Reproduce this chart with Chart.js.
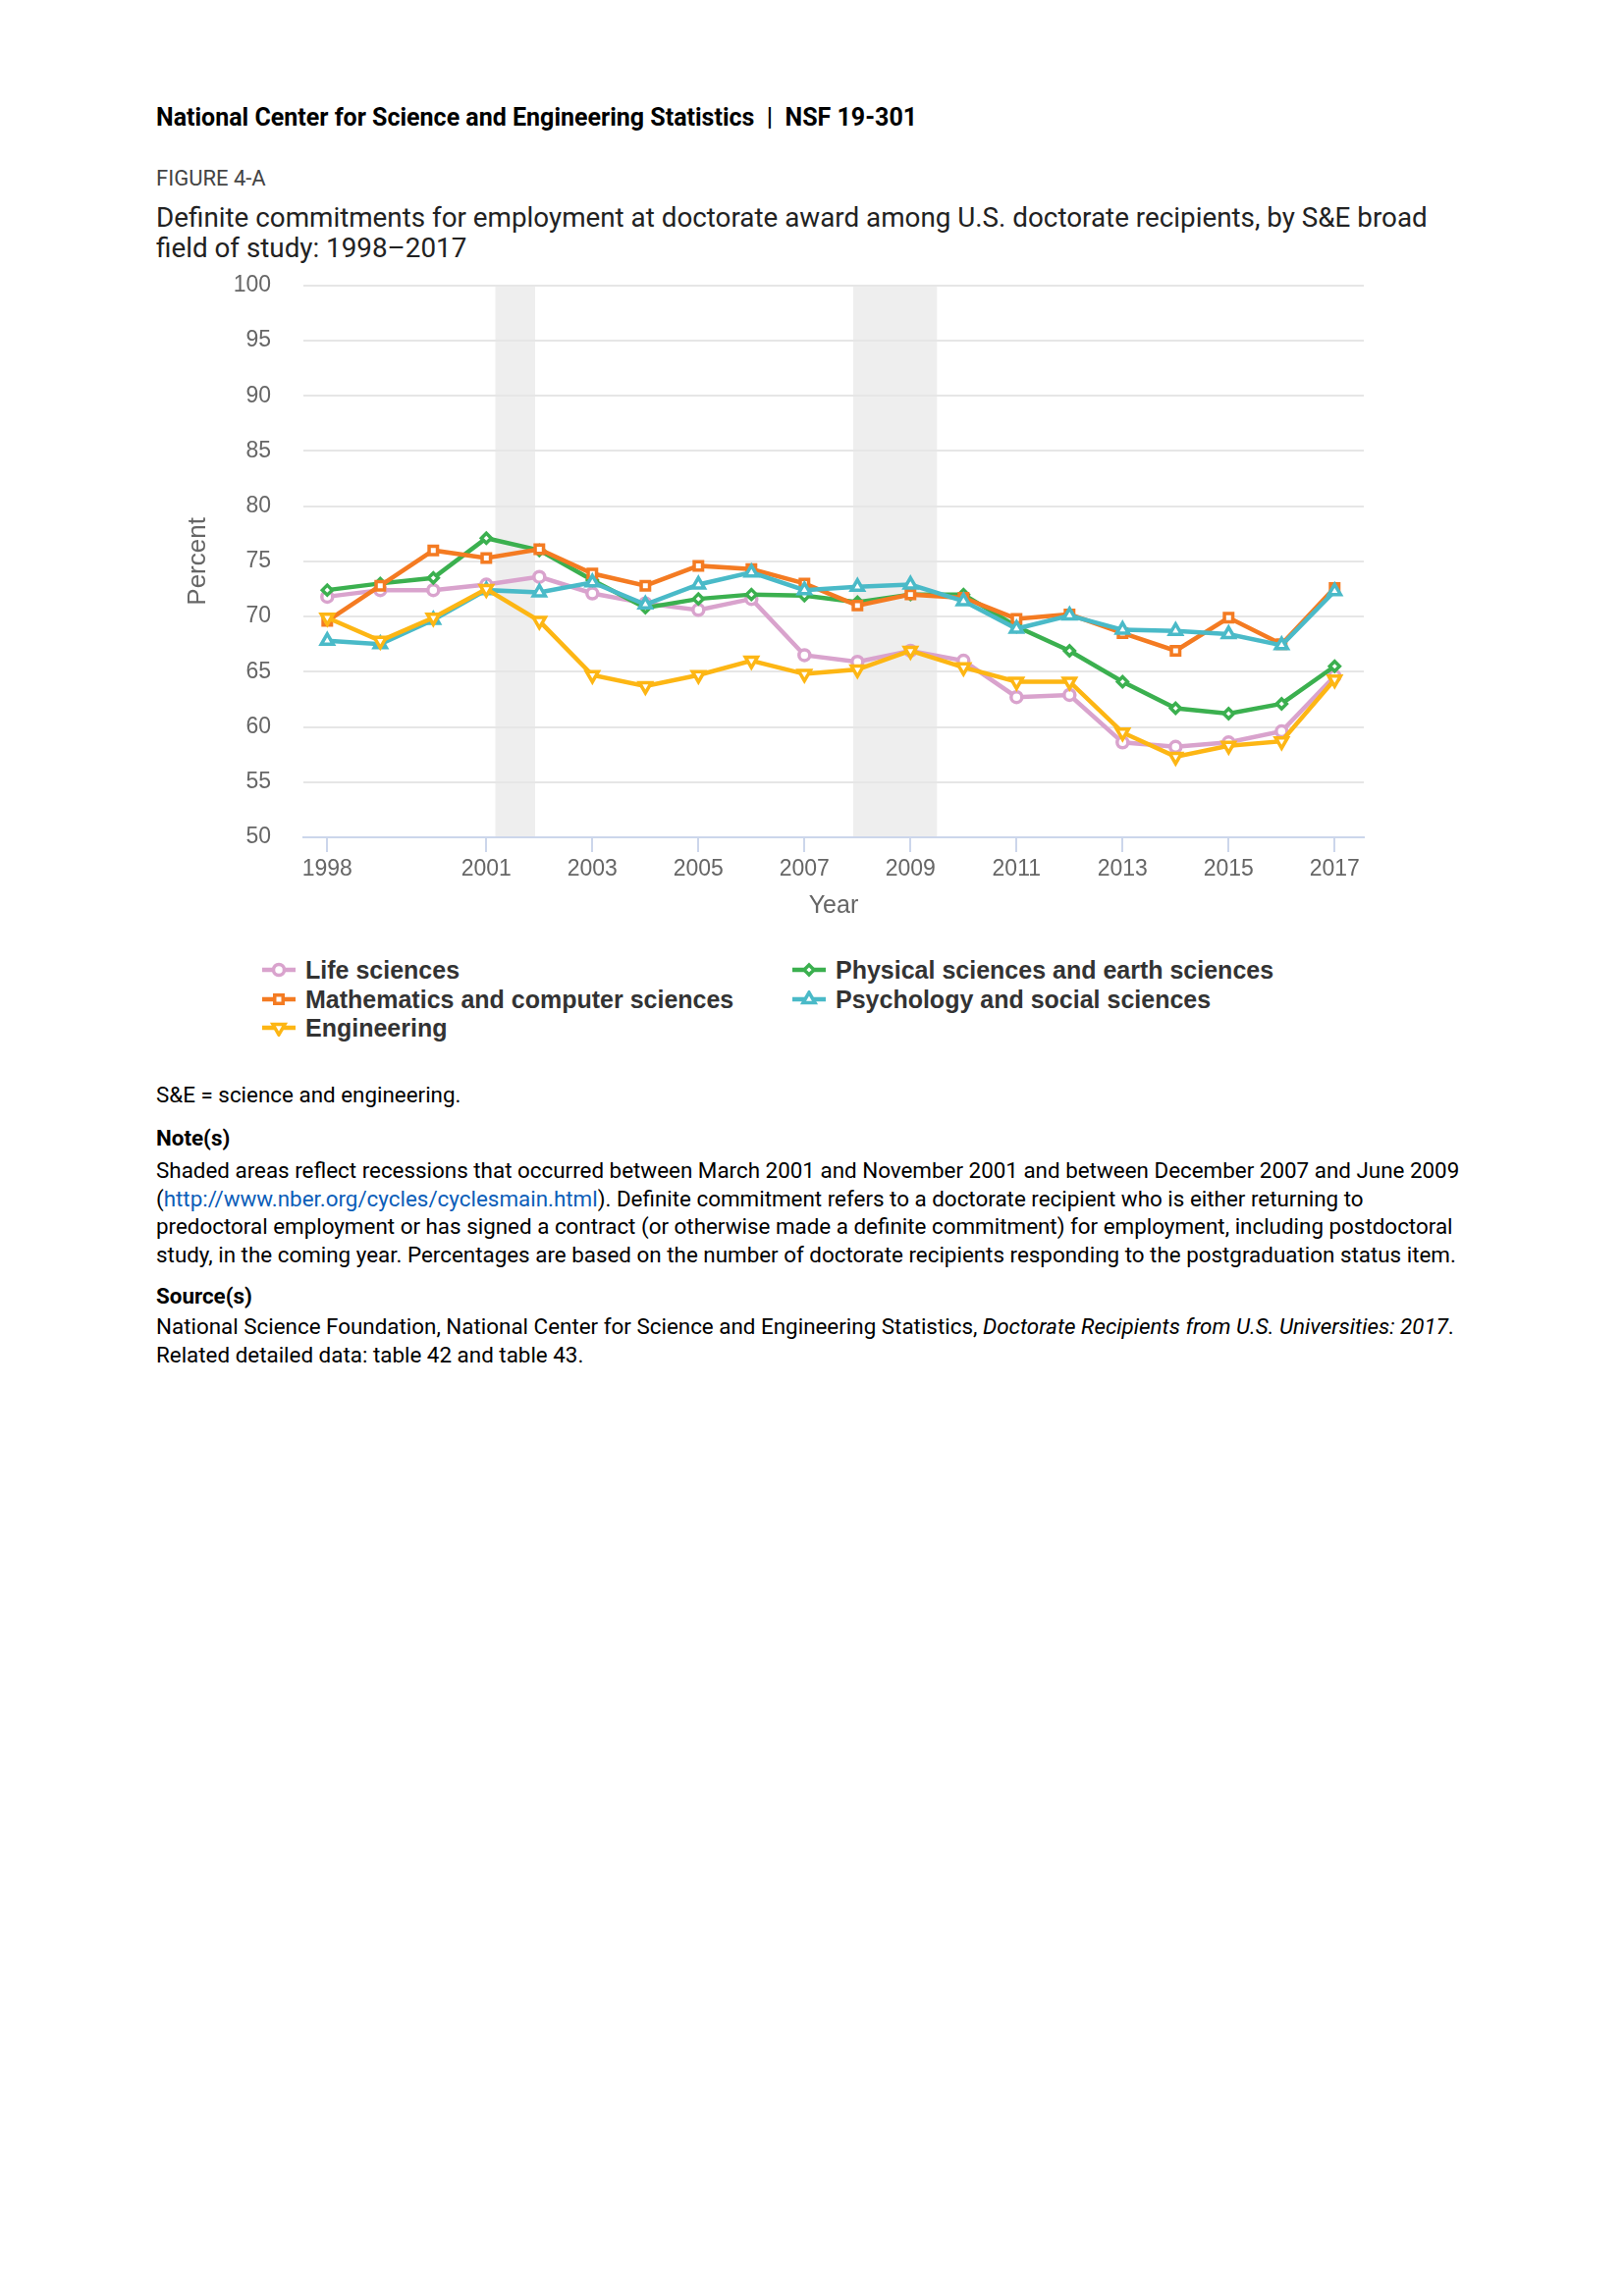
<!DOCTYPE html>
<html>
<head>
<meta charset="utf-8">
<script src="https://cdn.jsdelivr.net/npm/chart.js@4.4.1/dist/chart.umd.min.js"></script>
<style>
    body { margin: 0; width: 1654px; height: 2339px; background: #fff; position: relative; font-family: Roboto, "Noto Sans", sans-serif; color: #000; }
    .t { position: absolute; left: 159px; white-space: nowrap; }
    #header { top: 105px; font-size: 25px; font-weight: 700; line-height: 30px; }
    #figno { top: 169px; font-size: 22px; color: #444; line-height: 26px; }
    #title { top: 206px; font-size: 27.8px; line-height: 31px; color: #222; }
    #chartBox { position: absolute; left: 150px; top: 244px; width: 1270px; height: 707px; }
    .leg { position: absolute; font-family: "Liberation Sans", Arial, sans-serif; font-weight: 700; font-size: 25px; color: #333; line-height: 28px; white-space: nowrap; }
    .leg canvas { vertical-align: middle; margin-right: 10px; position: relative; top: -2px; }
    .foot { font-size: 22.4px; line-height: 28.5px; }
    .foot b { font-weight: 700; }
    a { color: #0b5db8; text-decoration: none; }
</style>
</head>
<body>
<div class="t" id="header">National Center for Science and Engineering Statistics &nbsp;|&nbsp; NSF 19-301</div>
<div class="t" id="figno">FIGURE 4-A</div>
<div class="t" id="title">Definite commitments for employment at doctorate award among U.S. doctorate recipients, by S&amp;E broad<br>field of study: 1998–2017</div>

<div id="chartBox"><canvas id="Chart1" width="1270" height="707"></canvas></div>

<div id="legend"></div>

<div class="t foot" style="top:1101px;">S&amp;E = science and engineering.</div>
<div class="t foot" style="top:1145px;"><b>Note(s)</b></div>
<div class="t foot" style="top:1178px;">Shaded areas reflect recessions that occurred between March 2001 and November 2001 and between December 2007 and June 2009<br>(<a>http://www.nber.org/cycles/cyclesmain.html</a>). Definite commitment refers to a doctorate recipient who is either returning to<br>predoctoral employment or has signed a contract (or otherwise made a definite commitment) for employment, including postdoctoral<br>study, in the coming year. Percentages are based on the number of doctorate recipients responding to the postgraduation status item.</div>
<div class="t foot" style="top:1306px;"><b>Source(s)</b></div>
<div class="t foot" style="top:1337px;">National Science Foundation, National Center for Science and Engineering Statistics, <i>Doctorate Recipients from U.S. Universities: 2017</i>.<br>Related detailed data: table 42 and table 43.</div>

<script>
const years = [1998, 1999, 2000, 2001, 2002, 2003, 2004, 2005, 2006, 2007, 2008, 2009, 2010, 2011, 2012, 2013, 2014, 2015, 2016, 2017];
const lifeSciences     = [71.8, 72.4, 72.4, 72.9, 73.6, 72.1, 71.2, 70.6, 71.6, 66.5, 65.9, 66.9, 66.0, 62.7, 62.9, 58.6, 58.2, 58.6, 59.6, 64.6];
const physicalSciences = [72.4, 73.0, 73.5, 77.1, 76.0, 73.3, 70.8, 71.6, 72.0, 71.9, 71.3, 72.0, 72.0, 69.1, 66.9, 64.1, 61.7, 61.2, 62.1, 65.5];
const mathComputer     = [69.6, 72.8, 76.0, 75.3, 76.1, 73.9, 72.8, 74.6, 74.3, 73.0, 71.0, 72.0, 71.7, 69.8, 70.2, 68.5, 66.9, 69.9, 67.5, 72.6];
const psychSocial      = [67.8, 67.5, 69.7, 72.4, 72.2, 73.1, 71.1, 72.9, 74.0, 72.4, 72.7, 72.9, 71.4, 68.9, 70.1, 68.8, 68.7, 68.4, 67.4, 72.3];
const engineering      = [69.9, 67.8, 69.9, 72.5, 69.6, 64.7, 63.7, 64.7, 66.0, 64.8, 65.2, 66.9, 65.4, 64.1, 64.1, 59.5, 57.3, 58.3, 58.7, 64.3];
const xTickYears = [1998, 2001, 2003, 2005, 2007, 2009, 2011, 2013, 2015, 2017];
const recessions = [[2001.17, 2001.92], [2007.92, 2009.5]];

// legend order (row by row), drawn bottom to top in the same order
const series = [
    { label: 'Life sciences', data: lifeSciences, color: '#d9a3cd', style: 'circle', radius: 5.5, rot: 0 },
    { label: 'Physical sciences and earth sciences', data: physicalSciences, color: '#3bb04f', style: 'rectRot', radius: 5, rot: 0 },
    { label: 'Mathematics and computer sciences', data: mathComputer, color: '#f47b22', style: 'rect', radius: 6, rot: 0 },
    { label: 'Psychology and social sciences', data: psychSocial, color: '#4abac8', style: 'triangle', radius: 7, rot: 0 },
    { label: 'Engineering', data: engineering, color: '#fdb614', style: 'triangle', radius: 7, rot: 180 }
];

const bandsPlugin = {
    id: 'bands',
    beforeDraw(chart) {
        const { ctx, chartArea, scales } = chart;
        ctx.save();
        ctx.fillStyle = '#eeeeee';
        recessions.forEach(([a, b]) => {
            const x1 = scales.x.getPixelForValue(a);
            const x2 = scales.x.getPixelForValue(b);
            ctx.fillRect(x1, chartArea.top, x2 - x1, chartArea.bottom - chartArea.top);
        });
        ctx.restore();
    }
};

const axisFont = { family: '"Liberation Sans", Arial, sans-serif', size: 23 };
const titleFont = { family: '"Liberation Sans", Arial, sans-serif', size: 25 };

const ctx = document.getElementById('Chart1').getContext('2d');
new Chart(ctx, {
    type: 'line',
    data: {
        datasets: series.slice().reverse().map(s => ({
            label: s.label,
            data: years.map((y, i) => ({ x: y, y: s.data[i] })),
            borderColor: s.color,
            backgroundColor: '#ffffff',
            borderWidth: 4.5,
            pointStyle: s.style,
            pointRadius: s.radius,
            pointRotation: s.rot,
            pointBorderWidth: 3.5,
            pointBorderColor: s.color,
            pointBackgroundColor: '#ffffff',
            tension: 0
        }))
    },
    options: {
        responsive: false,
        devicePixelRatio: 1,
        animation: false,
        layout: { padding: { top: 15, right: 31, left: 0, bottom: 0 } },
        scales: {
            x: {
                type: 'linear',
                min: 1997.55,
                max: 2017.55,
                afterBuildTicks: (scale) => { scale.ticks = xTickYears.map(v => ({ value: v })); },
                afterFit: (scale) => { scale.height = 98; },
                ticks: { color: '#666', font: axisFont, padding: 4, callback: v => String(v), maxRotation: 0, autoSkip: false },
                grid: { drawOnChartArea: false, drawTicks: true, tickLength: 15, color: '#ccd6eb', lineWidth: 2 },
                border: { display: true, color: '#ccd6eb', width: 2 },
                title: { display: true, text: 'Year', color: '#666', font: titleFont, padding: { top: 4, bottom: 13 } }
            },
            y: {
                min: 50,
                max: 100,
                ticks: { stepSize: 5, color: '#666', font: axisFont, padding: 33 },
                afterFit: (scale) => { scale.width = 159; },
                grid: { color: '#e6e6e6', lineWidth: 2, drawTicks: false },
                border: { display: false },
                title: { display: true, text: 'Percent', color: '#666', font: { family: titleFont.family, size: 26 }, padding: { top: 36, bottom: 0 } }
            }
        },
        plugins: { legend: { display: false }, tooltip: { enabled: false } }
    },
    plugins: [bandsPlugin]
});

// html legend with line + marker icons
const drawIcon = (s) => {
    const c = document.createElement('canvas');
    c.width = 34; c.height = 18;
    const g = c.getContext('2d');
    g.strokeStyle = s.color;
    g.lineWidth = 4.5;
    g.beginPath(); g.moveTo(0, 9); g.lineTo(34, 9); g.stroke();
    g.fillStyle = '#ffffff';
    g.lineWidth = 3.5;
    Chart.helpers.drawPoint(g, { pointStyle: s.style, radius: s.radius, rotation: s.rot, borderWidth: 3.5 }, 17, 9);
    return c;
};
const legendPos = [[267, 974], [807, 974], [267, 1004], [807, 1004], [267, 1033]];
const legend = document.getElementById('legend');
series.forEach((s, i) => {
    const d = document.createElement('div');
    d.className = 'leg';
    d.style.left = legendPos[i][0] + 'px';
    d.style.top = legendPos[i][1] + 'px';
    d.appendChild(drawIcon(s));
    d.appendChild(document.createTextNode(s.label));
    legend.appendChild(d);
});
</script>
</body>
</html>
